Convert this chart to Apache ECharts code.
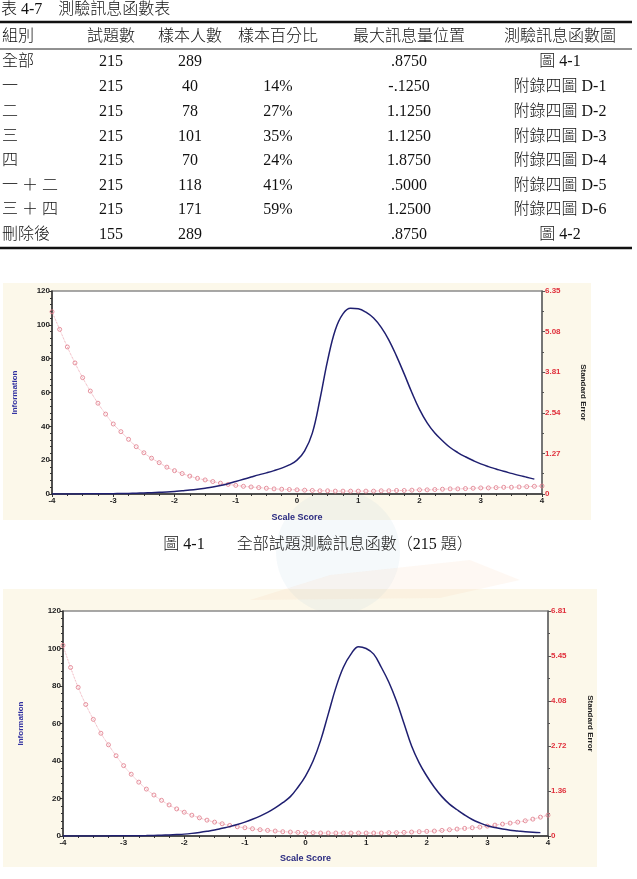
<!DOCTYPE html>
<html>
<head>
<meta charset="utf-8">
<script src="https://cdn.jsdelivr.net/npm/echarts@6/dist/echarts.min.js"></script>
<style>
  html, body { margin: 0; padding: 0; background: #fff; }
  #main { width: 637px; height: 879px; }
</style>
</head>
<body>
<div id="main"></div>
<script>
// 表 4-7 data
const tableTitle = '表 4-7\u3000測驗訊息函數表';
const tableHeader = ['組別', '試題數', '樣本人數', '樣本百分比', '最大訊息量位置', '測驗訊息函數圖'];
const groups = ['全部', '一', '二', '三', '四', '一 ＋ 二', '三 ＋ 四', '刪除後'];
const itemCounts = ['215', '215', '215', '215', '215', '215', '215', '155'];
const sampleSizes = ['289', '40', '78', '101', '70', '118', '171', '289'];
const samplePct = ['', '14%', '27%', '35%', '24%', '41%', '59%', ''];
const maxInfoPos = ['.8750', '-.1250', '1.1250', '1.1250', '1.8750', '.5000', '1.2500', '.8750'];
const figRefs = ['圖 4-1', '附錄四圖 D-1', '附錄四圖 D-2', '附錄四圖 D-3', '附錄四圖 D-4', '附錄四圖 D-5', '附錄四圖 D-6', '圖 4-2'];

// scale score points (step .125)
const scores = [];
for (let i = 0; i <= 64; i++) scores.push(-4 + i * 0.125);

// 圖 4-1 全部 215 題
const info1 = [0.03, 0.04, 0.05, 0.06, 0.08, 0.10, 0.12, 0.16, 0.21, 0.26, 0.34, 0.45, 0.6, 0.8, 1.0, 1.2,
  1.5, 1.9, 2.3, 2.8, 3.4, 4.1, 5.0, 6.1, 7.4, 8.7, 10.0, 11.3, 12.5, 13.8, 15.3, 17.2,
  20, 25.5, 36, 56, 79, 97, 106.5, 109.8, 109.5, 107.5, 104, 98.5, 91, 81.5, 71, 60,
  50, 42, 36, 31.5, 27.5, 24.5, 22, 19.8, 17.8, 16.2, 14.8, 13.4, 12.2, 11, 9.9, 8.8];
const se1 = [5.70, 5.15, 4.60, 4.10, 3.64, 3.22, 2.84, 2.50, 2.19, 1.95, 1.71, 1.48, 1.29, 1.12, 0.98, 0.84,
  0.73, 0.64, 0.56, 0.49, 0.44, 0.39, 0.34, 0.30, 0.27, 0.24, 0.22, 0.20, 0.18, 0.16, 0.15, 0.14,
  0.13, 0.12, 0.11, 0.10, 0.10, 0.09, 0.09, 0.09, 0.09, 0.09, 0.09, 0.10, 0.10, 0.11, 0.11, 0.12,
  0.13, 0.13, 0.14, 0.15, 0.16, 0.16, 0.17, 0.18, 0.19, 0.19, 0.20, 0.21, 0.21, 0.22, 0.23, 0.24, 0.25];
const seTicks1 = ['0', '1.27', '2.54', '3.81', '5.08', '6.35'];

// 圖 4-2 刪除後 155 題
const info2 = [0.02, 0.02, 0.03, 0.03, 0.04, 0.05, 0.06, 0.08, 0.1, 0.13, 0.17, 0.22, 0.3, 0.4, 0.55, 0.75,
  1.0, 1.4, 1.9, 2.5, 3.2, 4.1, 5.0, 6.1, 7.4, 8.9, 10.6, 12.6, 15, 17.8, 21, 26,
  32, 40, 51, 65, 79, 90, 97, 101, 100, 97, 90, 82, 72, 60, 48, 39,
  32, 26, 21, 17, 14, 11.2, 8.8, 7, 5.5, 4.5, 3.7, 3.1, 2.7, 2.3, 2.0, 1.8];
const se2 = [5.77, 5.10, 4.50, 3.98, 3.53, 3.11, 2.76, 2.43, 2.13, 1.87, 1.63, 1.42, 1.24, 1.08, 0.94, 0.82,
  0.72, 0.63, 0.55, 0.48, 0.42, 0.37, 0.32, 0.28, 0.25, 0.22, 0.19, 0.17, 0.15, 0.13, 0.12, 0.11,
  0.10, 0.10, 0.09, 0.09, 0.09, 0.09, 0.09, 0.09, 0.09, 0.09, 0.09, 0.10, 0.10, 0.11, 0.12, 0.13,
  0.14, 0.15, 0.17, 0.19, 0.21, 0.23, 0.25, 0.27, 0.30, 0.33, 0.36, 0.39, 0.42, 0.46, 0.51, 0.57, 0.63];
const seTicks2 = ['0', '1.36', '2.72', '4.08', '5.45', '6.81'];

const captions = ['圖 4-1\u3000\u3000全部試題測驗訊息函數（215 題）'];

const serif = '"Liberation Serif", "Noto Sans CJK TC", serif';
const sans = '"Liberation Sans", Arial, sans-serif';

const pairs = (ys) => ys.map((v, i) => [scores[i], v]);

// table graphics
const colX = [2, 111, 190, 278, 409, 560];
const colAlign = ['left', 'center', 'center', 'center', 'center', 'center'];
const headerY = 37;
const rowY = [62, 87, 112, 137, 161, 186, 210, 235];
const graphics = [];
graphics.push({ type: 'text', x: 1, y: 10, z: 100,
  style: { text: tableTitle, font: '300 16px ' + serif, fill: '#111', textVerticalAlign: 'middle' } });
graphics.push({ type: 'line', z: 100, shape: { x1: 0, y1: 22, x2: 632, y2: 22 }, style: { stroke: '#111', lineWidth: 2.5 } });
graphics.push({ type: 'line', z: 100, shape: { x1: 0, y1: 49, x2: 632, y2: 49 }, style: { stroke: '#222', lineWidth: 1 } });
graphics.push({ type: 'line', z: 100, shape: { x1: 0, y1: 248, x2: 632, y2: 248 }, style: { stroke: '#111', lineWidth: 2.5 } });
tableHeader.forEach((h, c) => {
  graphics.push({ type: 'text', x: colX[c], y: headerY, z: 100,
    style: { text: h, font: '300 16px ' + serif, fill: '#111', textAlign: colAlign[c], textVerticalAlign: 'middle' } });
});
const cols = [groups, itemCounts, sampleSizes, samplePct, maxInfoPos, figRefs];
cols.forEach((col, c) => {
  col.forEach((t, r) => {
    if (!t) return;
    graphics.push({ type: 'text', x: colX[c], y: rowY[r], z: 100,
      style: { text: t, font: (c === 0 || c === 5 ? '300 ' : '') + '16px ' + serif, fill: '#111',
        textAlign: colAlign[c], textVerticalAlign: 'middle' } });
  });
});

// chart panels, faint watermark, caption
graphics.push({ type: 'rect', z: -3, shape: { x: 3, y: 283, width: 588, height: 237 }, style: { fill: '#fcf8ea' } });
graphics.push({ type: 'rect', z: -3, shape: { x: 3, y: 589, width: 594, height: 278 }, style: { fill: '#fcf8ea' } });
graphics.push({ type: 'circle', z: -2, shape: { cx: 338, cy: 552, r: 62 }, style: { fill: 'rgba(160,195,215,0.10)' } });
graphics.push({ type: 'polygon', z: -2, shape: { points: [[250, 600], [330, 575], [470, 560], [520, 580], [440, 598]] },
  style: { fill: 'rgba(245,200,160,0.12)' } });
graphics.push({ type: 'text', x: 318, y: 545, z: 100,
  style: { text: captions[0], font: '300 16px ' + serif, fill: '#111', textAlign: 'center', textVerticalAlign: 'middle' } });

function xAxisFor(gi) {
  return {
    type: 'value', gridIndex: gi, min: -4, max: 4, interval: 1,
    name: 'Scale Score', nameLocation: 'middle', nameGap: gi === 0 ? 19 : 18,
    nameTextStyle: { color: '#2a2a80', fontWeight: 'bold', fontSize: 9, fontFamily: sans },
    axisLine: { onZero: false, lineStyle: { color: '#333', width: 1.5 } },
    axisTick: { length: 3, lineStyle: { color: '#333' } },
    minorTick: { show: true, splitNumber: 4, length: 2, lineStyle: { color: '#333' } },
    splitLine: { show: false },
    axisLabel: { color: '#222', fontSize: 8, fontWeight: 'bold', fontFamily: sans, margin: 3 }
  };
}
function infoAxisFor(gi) {
  return {
    type: 'value', gridIndex: gi, min: 0, max: 120, interval: 20, position: 'left',
    name: 'Information', nameLocation: 'middle', nameGap: gi === 0 ? 33 : 38,
    nameTextStyle: { color: '#3030a0', fontSize: 8, fontWeight: 600, fontFamily: sans },
    axisLine: { show: true, onZero: false, lineStyle: { color: '#333', width: 1.5 } },
    axisTick: { show: true, length: 3, lineStyle: { color: '#333' } },
    minorTick: { show: true, splitNumber: 5, length: 2, lineStyle: { color: '#333' } },
    splitLine: { show: false },
    axisLabel: { color: '#222', fontSize: 8, fontWeight: 'bold', fontFamily: sans, margin: 2 }
  };
}
function seAxisFor(gi, ticks) {
  const max = parseFloat(ticks[ticks.length - 1]);
  const step = max / (ticks.length - 1);
  return {
    type: 'value', gridIndex: gi, min: 0, max: max, interval: step, position: 'right',
    name: 'Standard Error', nameLocation: 'middle', nameGap: gi === 0 ? 37 : 38, nameRotate: -90,
    nameTextStyle: { color: '#222', fontSize: 8, fontWeight: 600, fontFamily: sans },
    axisLine: { show: true, onZero: false, lineStyle: { color: '#666', width: 1.5 } },
    axisTick: { show: true, length: 3, lineStyle: { color: '#555' } },
    minorTick: { show: true, splitNumber: 2, length: 2, lineStyle: { color: '#555' } },
    splitLine: { show: false },
    axisLabel: { color: '#e0303c', fontSize: 8, fontWeight: 'bold', fontFamily: sans, margin: 3,
      formatter: (v) => ticks[Math.round(v / step)] }
  };
}
function infoSeries(gi, data) {
  return { type: 'line', xAxisIndex: gi, yAxisIndex: gi * 2, data: pairs(data), smooth: 0.4,
    showSymbol: false, lineStyle: { color: '#1f1f70', width: 1.5 }, z: 3 };
}
function seSeries(gi, data) {
  return { type: 'line', xAxisIndex: gi, yAxisIndex: gi * 2 + 1, data: pairs(data), smooth: true,
    symbol: 'circle', symbolSize: 4, color: '#e07888',
    itemStyle: { color: 'rgba(255,255,255,0)', borderColor: '#e07888', borderWidth: 0.8 },
    lineStyle: { color: '#e890a0', width: 0.8, type: 'dotted' }, z: 2 };
}

const chart = echarts.init(document.getElementById('main'));
chart.setOption({
  animation: false,
  graphic: graphics,
  grid: [
    { left: 52, top: 291, width: 490, height: 203, show: true, backgroundColor: '#fff', borderColor: '#8a8a8a', borderWidth: 1.5 },
    { left: 63, top: 611, width: 485, height: 225, show: true, backgroundColor: '#fff', borderColor: '#8a8a8a', borderWidth: 1.5 }
  ],
  xAxis: [xAxisFor(0), xAxisFor(1)],
  yAxis: [infoAxisFor(0), seAxisFor(0, seTicks1), infoAxisFor(1), seAxisFor(1, seTicks2)],
  series: [infoSeries(0, info1), seSeries(0, se1), infoSeries(1, info2), seSeries(1, se2)]
});
window.addEventListener('resize', () => chart.resize());
</script>
</body>
</html>
